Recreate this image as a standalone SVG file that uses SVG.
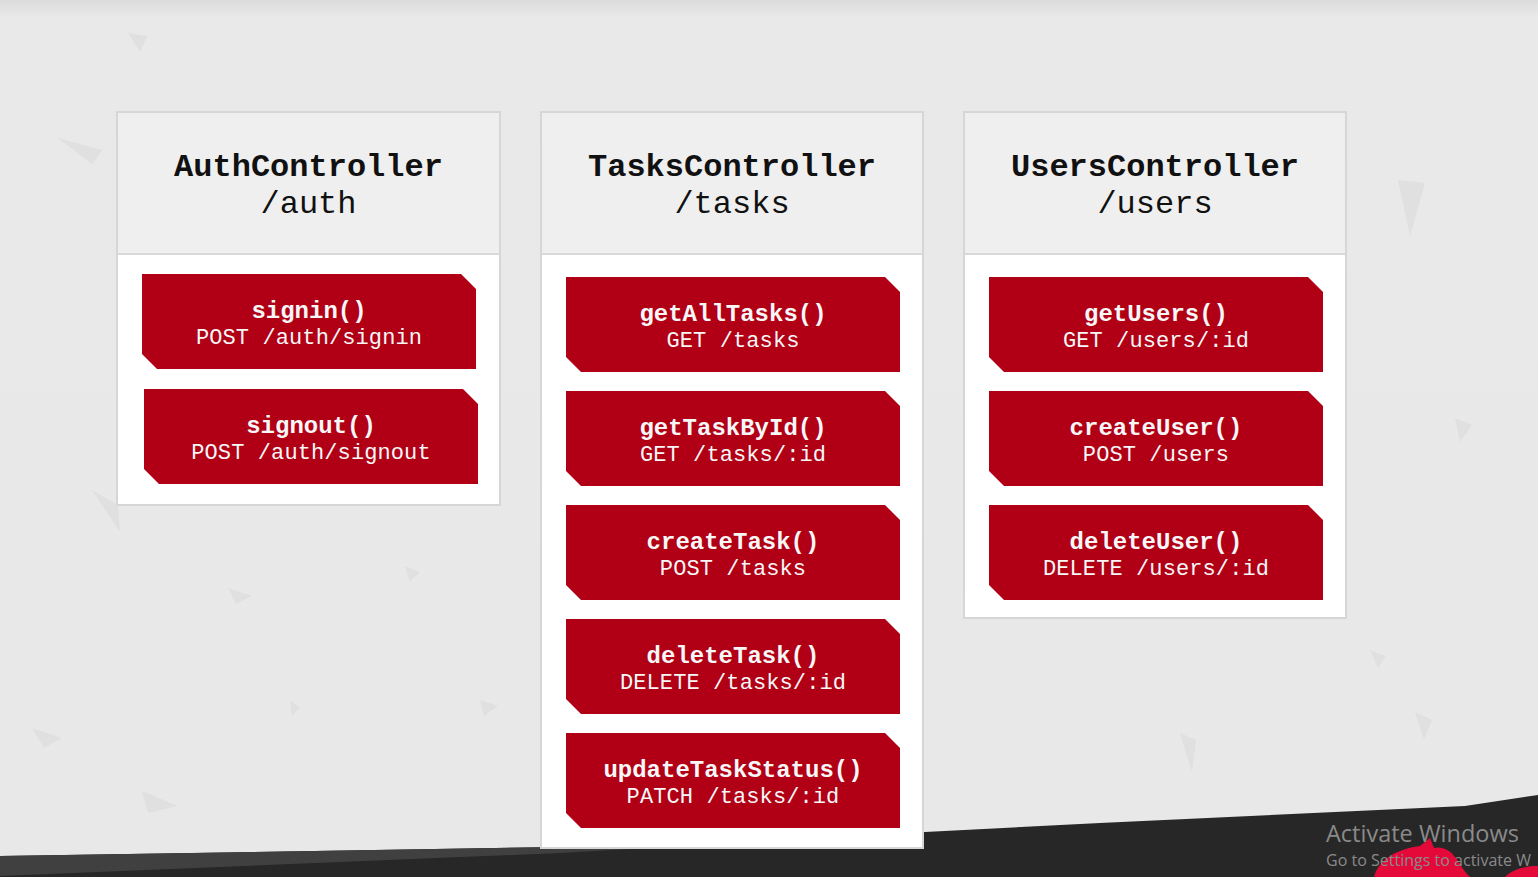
<svg xmlns="http://www.w3.org/2000/svg" width="1538" height="877" viewBox="0 0 1538 877">
  <defs>
    <linearGradient id="bg" x1="0" y1="0" x2="0" y2="1">
      <stop offset="0" stop-color="#dcdcdc"/>
      <stop offset="0.02" stop-color="#e9e9e9"/>
      <stop offset="1" stop-color="#e8e8e8"/>
    </linearGradient>
  </defs>
  <style>
    .panel { fill: #ffffff; stroke: #d6d6d6; stroke-width: 2; }
    .head { fill: #efefef; }
    .divider { stroke: #d9d9d9; stroke-width: 2; }
    .title { font-family: "Liberation Mono", "DejaVu Sans Mono", monospace; font-size: 32px; fill: #111111; text-anchor: middle; }
    .bold { font-weight: bold; }
    .ep { fill: #b10016; }
    .fn { font-family: "Liberation Mono", "DejaVu Sans Mono", monospace; font-size: 24px; font-weight: bold; fill: #f7f7f7; text-anchor: middle; }
    .route { font-family: "Liberation Mono", "DejaVu Sans Mono", monospace; font-size: 22px; fill: #f7f7f7; text-anchor: middle; letter-spacing: 0.1px; }
    .shard { fill: #e0e0e0; }
    .wm1 { font-family: "Open Sans", "Noto Sans", sans-serif; font-size: 23.5px; fill: #8a8a8a; }
    .wm2 { font-family: "Open Sans", "Noto Sans", sans-serif; font-size: 16px; fill: #8a8a8a; }
  </style>

  <!-- background -->
  <rect x="0" y="0" width="1538" height="877" fill="url(#bg)"/>
  <g id="shards">
    <polygon class="shard" points="128,33 147,36 140,52"/>
    <polygon class="shard" points="58,138 102,150 92,164"/>
    <polygon class="shard" points="1398,180 1425,183 1410,236"/>
    <polygon class="shard" points="1455,418 1472,425 1460,442"/>
    <polygon class="shard" points="92,490 118,505 120,532"/>
    <polygon class="shard" points="228,588 252,596 236,604"/>
    <polygon class="shard" points="405,566 420,572 410,582"/>
    <polygon class="shard" points="32,728 62,738 44,748"/>
    <polygon class="shard" points="142,791 178,806 148,813"/>
    <polygon class="shard" points="1180,733 1196,740 1192,772"/>
    <polygon class="shard" points="1415,712 1432,720 1424,740"/>
    <polygon class="shard" points="1370,650 1386,656 1378,668"/>
    <polygon class="shard" points="290,700 300,708 292,716"/>
    <polygon class="shard" points="480,700 498,706 484,716"/>
  </g>

  <!-- dark band -->
  <polygon points="0,856 560,847 925,832 1100,823 1465,806 1538,795 1538,877 0,877" fill="#272727"/>
  <polygon points="0,856 560,847 925,832 560,853 0,876" fill="#404040"/>

  <!-- AuthController -->
  <g id="auth-controller">
    <rect class="panel" x="117" y="112" width="383" height="393"/>
    <rect class="head" x="118" y="113" width="381" height="141"/>
    <line class="divider" x1="118" y1="254" x2="499" y2="254"/>
    <text class="title bold" x="308.5" y="176">AuthController</text>
    <text class="title" x="308.5" y="213">/auth</text>
  </g>
  <g id="auth-signin">
    <polygon class="ep" points="142,274 461,274 476,289 476,369 157,369 142,354"/>
    <text class="fn" x="309" y="318">signin()</text>
    <text class="route" x="309" y="344">POST /auth/signin</text>
  </g>
  <g id="auth-signout">
    <polygon class="ep" points="144,389 463,389 478,404 478,484 159,484 144,469"/>
    <text class="fn" x="311" y="433">signout()</text>
    <text class="route" x="311" y="459">POST /auth/signout</text>
  </g>

  <!-- TasksController -->
  <g id="tasks-controller">
    <rect class="panel" x="541" y="112" width="382" height="736"/>
    <rect class="head" x="542" y="113" width="380" height="141"/>
    <line class="divider" x1="542" y1="254" x2="922" y2="254"/>
    <text class="title bold" x="732" y="176">TasksController</text>
    <text class="title" x="732" y="213">/tasks</text>
  </g>
  <g id="tasks-getall">
    <polygon class="ep" points="566,277 885,277 900,292 900,372 581,372 566,357"/>
    <text class="fn" x="733" y="321">getAllTasks()</text>
    <text class="route" x="733" y="347">GET /tasks</text>
  </g>
  <g id="tasks-getbyid">
    <polygon class="ep" points="566,391 885,391 900,406 900,486 581,486 566,471"/>
    <text class="fn" x="733" y="435">getTaskById()</text>
    <text class="route" x="733" y="461">GET /tasks/:id</text>
  </g>
  <g id="tasks-create">
    <polygon class="ep" points="566,505 885,505 900,520 900,600 581,600 566,585"/>
    <text class="fn" x="733" y="549">createTask()</text>
    <text class="route" x="733" y="575">POST /tasks</text>
  </g>
  <g id="tasks-delete">
    <polygon class="ep" points="566,619 885,619 900,634 900,714 581,714 566,699"/>
    <text class="fn" x="733" y="663">deleteTask()</text>
    <text class="route" x="733" y="689">DELETE /tasks/:id</text>
  </g>
  <g id="tasks-updatestatus">
    <polygon class="ep" points="566,733 885,733 900,748 900,828 581,828 566,813"/>
    <text class="fn" x="733" y="777">updateTaskStatus()</text>
    <text class="route" x="733" y="803">PATCH /tasks/:id</text>
  </g>

  <!-- UsersController -->
  <g id="users-controller">
    <rect class="panel" x="964" y="112" width="382" height="506"/>
    <rect class="head" x="965" y="113" width="380" height="141"/>
    <line class="divider" x1="965" y1="254" x2="1345" y2="254"/>
    <text class="title bold" x="1155" y="176">UsersController</text>
    <text class="title" x="1155" y="213">/users</text>
  </g>
  <g id="users-get">
    <polygon class="ep" points="989,277 1308,277 1323,292 1323,372 1004,372 989,357"/>
    <text class="fn" x="1156" y="321">getUsers()</text>
    <text class="route" x="1156" y="347">GET /users/:id</text>
  </g>
  <g id="users-create">
    <polygon class="ep" points="989,391 1308,391 1323,406 1323,486 1004,486 989,471"/>
    <text class="fn" x="1156" y="435">createUser()</text>
    <text class="route" x="1156" y="461">POST /users</text>
  </g>
  <g id="users-delete">
    <polygon class="ep" points="989,505 1308,505 1323,520 1323,600 1004,600 989,585"/>
    <text class="fn" x="1156" y="549">deleteUser()</text>
    <text class="route" x="1156" y="575">DELETE /users/:id</text>
  </g>

  <g id="connectors"></g>

  <!-- bottom-right overlay -->
  <path d="M1374,877 C1378,862 1392,850 1420,846 L1430,838 L1434,848 C1442,846 1450,850 1454,856 C1460,862 1462,870 1470,877 Z" fill="#e5093a"/>
  <path d="M1505,877 C1512,870 1524,866 1538,866 L1538,877 Z" fill="#e5093a"/>
  <text class="wm1" x="1326" y="842">Activate Windows</text>
  <text class="wm2" x="1326" y="866" textLength="205" lengthAdjust="spacingAndGlyphs">Go to Settings to activate W</text>
</svg>
